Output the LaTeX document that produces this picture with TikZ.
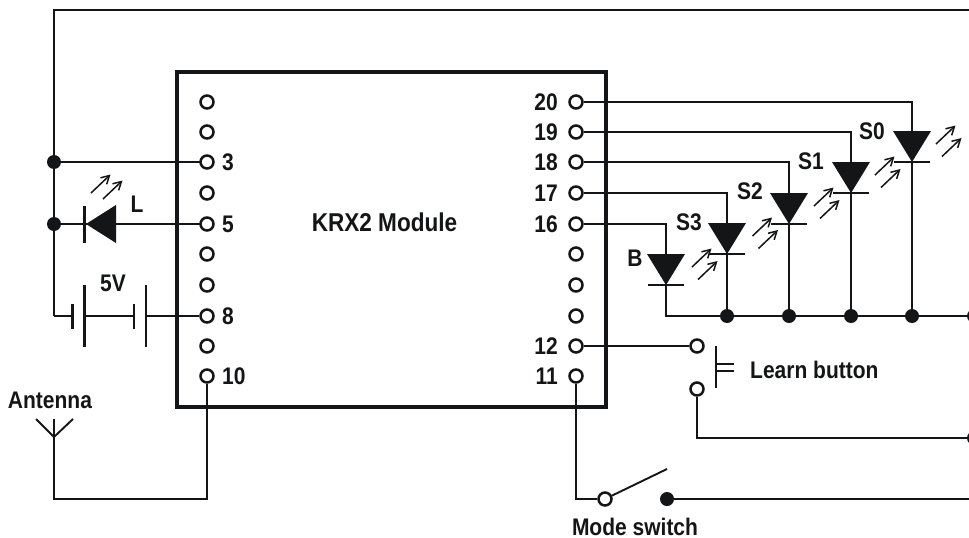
\documentclass[tikz,border=0pt]{standalone}
\usepackage{fontspec}
\setmainfont[FakeStretch=0.875]{Liberation Sans}
\usetikzlibrary{arrows.meta,calc}
\definecolor{ink}{HTML}{141516}
\tikzset{
  x=1pt,y=-1pt,
  wire/.style={draw=ink,line width=1.9pt},
  heavy/.style={draw=ink,line width=2.5pt},
  hole/.style={circle,draw=ink,fill=white,line width=2.5pt,inner sep=0pt,minimum size=13pt},
  dot/.style={circle,fill=ink,inner sep=0pt,minimum size=14pt},
  lab/.style={text=ink,font=\fontsize{24}{24}\selectfont\bfseries,inner sep=0pt},
  ray/.style={draw=ink,line width=1.5pt,-{Straight Barb[length=8pt,width=9pt,line width=1.5pt]}},
  module/.style={draw=ink,line width=4pt}
}
\newcommand{\rays}[3]{%
  \draw[ray] (#1) -- +(19.5,-18.5);
  \draw[ray] ($(#1)+(#2,#3)$) -- +(19.5,-18.5);
}
\begin{document}
\begin{tikzpicture}
\useasboundingbox (0,0) rectangle (969,538);
\clip (0,0) rectangle (969,538);
% module
\node[inner sep=0pt] (boxa) at (177,72) {};
\node[inner sep=0pt] (boxb) at (606,407) {};
\draw[module] (boxa) rectangle (boxb);
\node[lab,font=\fontsize{25.8}{26}\selectfont\bfseries] (title) at (384.5,222) {KRX2 Module};
% junctions and ends
\coordinate (topR) at (969,10);
\coordinate (topL) at (54,10);
\coordinate (batL) at (54,316);
\node[dot] (j3) at (54,162) {};
\node[dot] (j5) at (54,224) {};
\node[dot] (g0) at (912,316) {};
\node[dot] (g1) at (851,316) {};
\node[dot] (g2) at (789,316) {};
\node[dot] (g3) at (727,316) {};
\node[dot] (gR) at (974,316) {};
\node[dot] (lR) at (974,438) {};
% LEDs
\coordinate (S0) at (912,162);
\coordinate (S1) at (851,193);
\coordinate (S2) at (789,224);
\coordinate (S3) at (727,254);
\coordinate (Bd) at (666,285);
% wires behind pins
\draw[wire] (topR) -- (topL) -- (batL);
\draw[wire] (j3) -- (207,162);
\draw[wire] (j5) -- (207,224);
% pins left
\foreach \n/\y in {a/102,b/132,3/162,d/193,5/224,f/254,g/285,8/316,i/346,10/376}
  \node[hole] (L\n) at (207,\y) {};
% pins right
\foreach \n/\y in {20/102,19/132,18/162,17/193,16/224,f/254,g/285,h/316,12/346,11/376}
  \node[hole] (R\n) at (576,\y) {};
% pin labels
\foreach \n/\y in {3/162,5/224,8/316,10/376}
  \node[lab,anchor=west] (tL\n) at (222,\y) {\n};
\foreach \n/\y in {20/102,19/132,18/162,17/193,16/224,12/346,11/376}
  \node[lab,anchor=east] (tR\n) at (558,\y) {\n};
% battery
\coordinate (c1) at (72.5,316);
\coordinate (c2) at (84.5,316);
\coordinate (c3) at (134,316);
\coordinate (c4) at (146,316);
\draw[heavy] (batL) -- (c1);
\draw[heavy] (c1)+(0,-12) -- +(0,13);
\draw[heavy] (c2)+(0,-31) -- +(0,31);
\draw[wire] (c2) -- (c3);
\draw[wire] (c3)+(0,-12) -- +(0,13);
\draw[wire] (c4)+(0,-31) -- +(0,31);
\draw[wire] (c4) -- (L8);
\node[lab] (v5) at (113,283) {5V};
% L LED
\coordinate (Ld) at (86,224);
\fill[ink] (Ld) -- (116,205) -- (116,243) -- cycle;
\draw[heavy] (84.5,206) -- (84.5,243);
\coordinate (rL) at (91,193);
\rays{rL}{12}{6}
\node[lab] (tLL) at (137,204) {L};
% right LEDs
\foreach \c in {S0,S1,S2,S3,Bd}{
  \fill[ink] (\c) -- +(-19,-31) -- +(19,-31) -- cycle;
  \draw[wire] (\c)+(-18,0) -- +(18,0);
}
\draw[wire] (R20) -| (912,132);
\draw[wire] (R19) -| (851,162);
\draw[wire] (R18) -| (789,193);
\draw[wire] (R17) -| (727,224);
\draw[wire] (R16) -| (666,254);
\draw[heavy] (S0) -- (g0);
\draw[heavy] (S1) -- (g1);
\draw[heavy] (S2) -- (g2);
\draw[heavy] (S3) -- (g3);
\draw[heavy] (Bd) |- (gR);
\coordinate (r0) at (936,144);
\coordinate (r1) at (875,175);
\coordinate (r2) at (814,206);
\coordinate (r3) at (752.5,236);
\coordinate (r4) at (692,267);
\foreach \r in {r0,r1,r2,r3,r4}{\rays{\r}{6}{12.5}}
\node[lab] (tS0) at (872,131) {S0};
\node[lab] (tS1) at (811,161) {S1};
\node[lab] (tS2) at (750,191) {S2};
\node[lab] (tS3) at (689,222) {S3};
\node[lab] (tB) at (635,258) {B};
% learn button
\node[hole] (pa) at (697,346) {};
\node[hole] (pb) at (697,389) {};
\draw[wire] (R12) -- (pa);
\draw[heavy] (pb) |- (lR);
\draw[wire] (716,346) -- (716,388);
\draw[wire] (716,364) -- (734,364);
\draw[wire] (716,371) -- (734,371);
\node[lab,anchor=west] (tLearn) at (750,370) {Learn button};
% mode switch
\node[hole] (pm) at (605,499) {};
\node[dot] (pn) at (667,499) {};
\coordinate (mR) at (969,499);
\coordinate (blade) at (667,469);
\draw[wire] (R11) |- (pm);
\draw[wire] (pm) -- (blade);
\draw[wire] (pn) -- (mR);
\node[lab] (tMode) at (635,526.5) {Mode switch};
% antenna
\coordinate (antT) at (54,419);
\coordinate (antV) at (54,437);
\coordinate (antB) at (54,499);
\draw[wire] (L10) |- (antB) -- (antT);
\draw[wire] (36,419) -- (antV) -- (73,419);
\node[lab] (tAnt) at (50,400) {Antenna};
\end{tikzpicture}
\end{document}
